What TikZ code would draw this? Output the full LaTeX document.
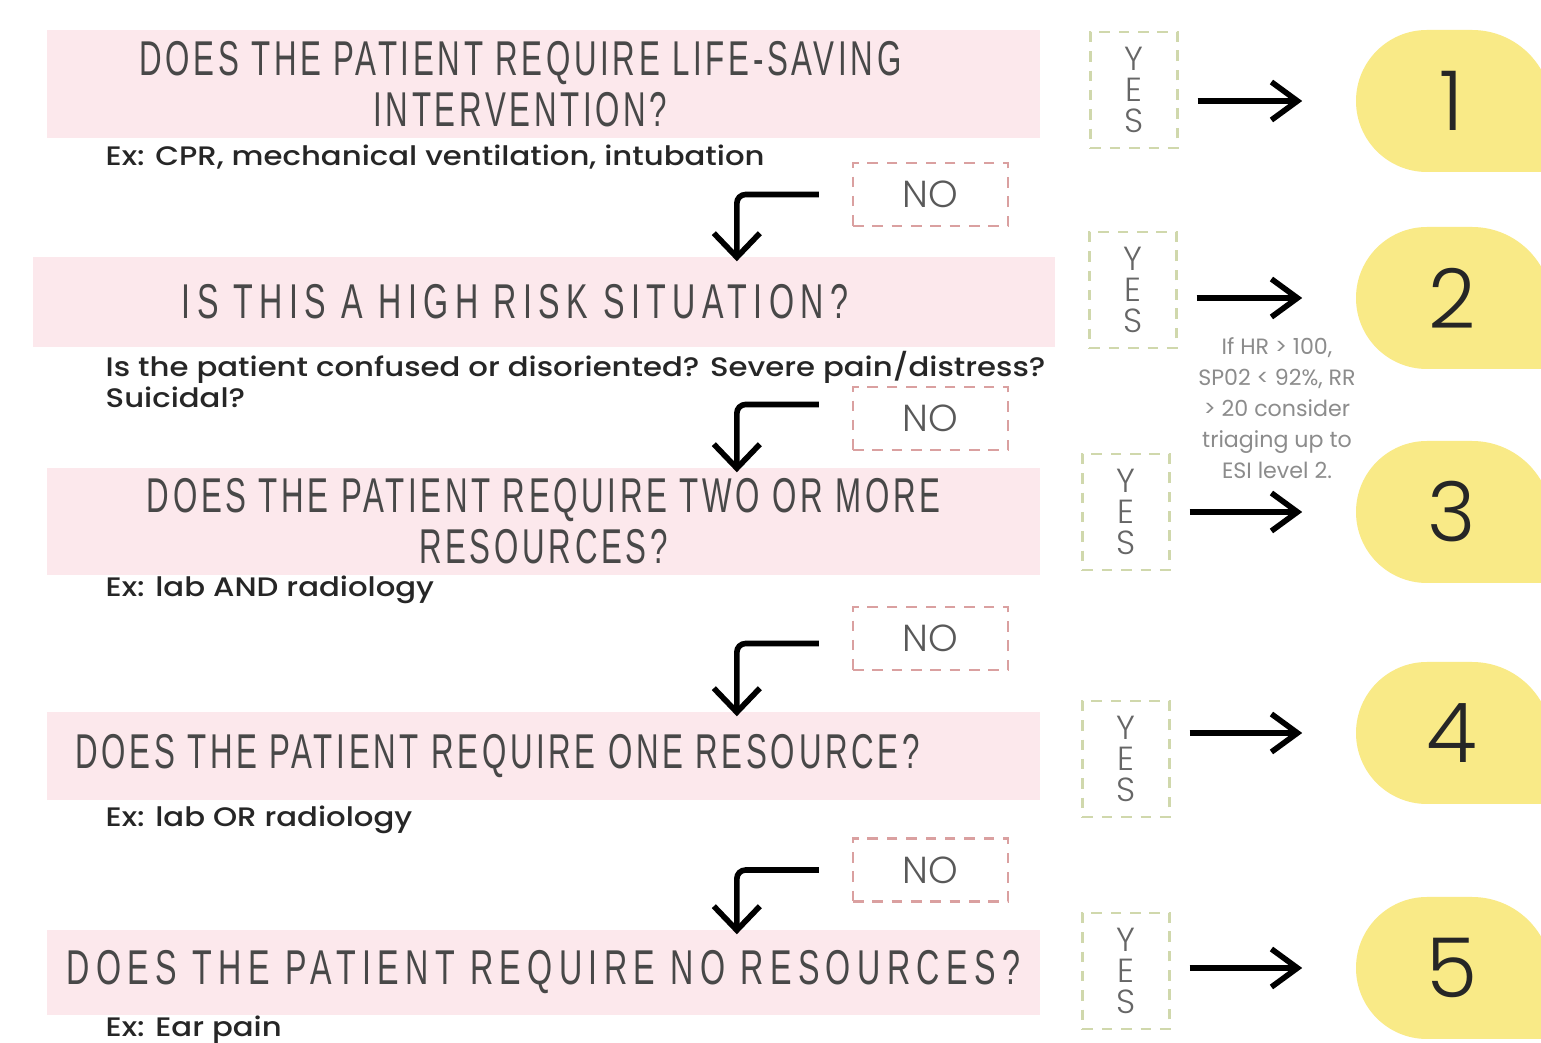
\documentclass[tikz,border=0pt]{standalone}
\usepackage{fontspec}
\setmainfont{Liberation Sans}
\newfontfamily\headfont[FakeStretch=0.64, LetterSpace=7.5]{Liberation Sans}
\newfontfamily\headfontwide[FakeStretch=0.66, LetterSpace=13]{Liberation Sans}
\newfontfamily\exfont[FakeStretch=1.15]{Poppins Medium}
\newfontfamily\notefont{Poppins}
\newfontfamily\thinfont{Poppins Light}
\usetikzlibrary{calc, positioning, shapes.misc, arrows.meta}
\definecolor{qpink}{RGB}{252,232,236}
\definecolor{lvlyellow}{RGB}{249,234,135}
\definecolor{yesgreen}{RGB}{208,216,172}
\definecolor{nored}{RGB}{218,160,160}
\definecolor{headgray}{RGB}{72,72,72}
\tikzstyle{question}=[fill=qpink, minimum width=9.93cm, inner sep=0pt, align=center, text=headgray, font=\headfont\fontsize{13.9}{14.6}\selectfont]
\tikzstyle{questionwide}=[question, font=\headfontwide\fontsize{13.9}{14.6}\selectfont]
\tikzstyle{extext}=[anchor=west, inner sep=0pt, align=left, text=black!85, font=\exfont\fontsize{7.6}{8.8}\selectfont]
\tikzstyle{yesbox}=[draw=yesgreen, line width=0.6pt, dash pattern=on 3pt off 2.5pt, minimum width=0.87cm, minimum height=1.16cm, inner sep=0pt, align=center, text=black!60, font=\thinfont\fontsize{9.5}{8.9}\selectfont]
\tikzstyle{nobox}=[draw=nored, line width=0.6pt, dash pattern=on 3pt off 2.5pt, minimum width=1.55cm, minimum height=0.63cm, inner sep=0pt, text=black!65, font=\thinfont\fontsize{10.7}{11}\selectfont]
\tikzstyle{level}=[minimum width=1.94cm, minimum height=1.42cm, inner sep=0pt, text=black!85, font=\thinfont\fontsize{23.5}{24}\selectfont]
\tikzstyle{note}=[align=center, inner sep=0pt, text=black!45, font=\notefont\fontsize{6.3}{8.8}\selectfont]
\tikzstyle{yesarrow}=[-{Straight Barb[length=2.6mm,width=3.8mm]}, line width=1.6pt, shorten <=0.19cm, shorten >=0.52cm]
\tikzstyle{noarrow}=[-{Straight Barb[length=2.4mm,width=4.6mm]}, line width=1.6pt, rounded corners=2.5pt]

\begin{document}
\begin{tikzpicture}[x=0.01cm, y=-0.01cm]
\useasboundingbox (0,0) rectangle (1541,1043);
\fill[white] (0,0) rectangle (1541,1043);
\clip (0,0) rectangle (1541,1043);
% yellow level blobs
\foreach \y in {101,298,512,733,968}
  \fill[lvlyellow] (1560,\y+71) -- (1427,\y+71) arc[start angle=90, end angle=270, radius=71] -- (1472,\y-71) arc[start angle=-90, end angle=0, radius=80] -- (1560,\y+9) -- cycle;
% questions
\node [question, minimum height=1.08cm](q1) at (543.5,84){\hspace*{-0.46cm}DOES THE PATIENT REQUIRE LIFE-SAVING\\\hspace*{-0.46cm}INTERVENTION?};
\node [questionwide, minimum width=10.22cm, minimum height=0.9cm](q2) at (544,302){\hspace*{-0.58cm}IS THIS A HIGH RISK SITUATION?};
\node [question, minimum height=1.07cm](q3) at (543.5,521.5){DOES THE PATIENT REQUIRE TWO OR MORE\\RESOURCES?};
\node [question, minimum height=0.88cm](q4) at (543.5,756){\hspace*{-0.92cm}DOES THE PATIENT REQUIRE ONE RESOURCE?};
\node [questionwide, minimum height=0.85cm](q5) at (543.5,972.5){DOES THE PATIENT REQUIRE NO RESOURCES?};
% examples
\node [extext](ex1) at (105,157){Ex: CPR, mechanical ventilation, intubation};
\node [extext, anchor=north west](ex2) at (105,351){Is the patient confused or disoriented? Severe pain/distress?\\Suicidal?};
\node [extext](ex3) at (105,590){Ex: lab AND radiology};
\node [extext](ex4) at (105,820){Ex: lab OR radiology};
\node [extext](ex5) at (105,1030){Ex: Ear pain};
% no boxes
\node [nobox](no1) at (930.5,194.5){NO};
\node [nobox](no2) at (930.5,418.5){NO};
\node [nobox](no3) at (930.5,638.5){NO};
\node [nobox](no4) at (930.5,870){NO};
\draw [noarrow] ([xshift=-0.33cm]no1.west) -| ([xshift=-1.15cm,yshift=-0.05cm]no1.west |- q2.north);
\draw [noarrow] ([xshift=-0.33cm,yshift=0.14cm]no2.west) -| ([xshift=-1.15cm,yshift=-0.05cm]no2.west |- q3.north);
\draw [noarrow] ([xshift=-0.33cm,yshift=-0.05cm]no3.west) -| ([xshift=-1.15cm,yshift=-0.05cm]no3.west |- q4.north);
\draw [noarrow] ([xshift=-0.33cm]no4.west) -| ([xshift=-1.15cm,yshift=-0.05cm]no4.west |- q5.north);
% yes boxes and levels
\node [yesbox](yes1) at (1134,90){Y\\E\\S};
\node [yesbox](yes2) at (1133,290){Y\\E\\S};
\node [yesbox](yes3) at (1126,512){Y\\E\\S};
\node [yesbox](yes4) at (1126,759){Y\\E\\S};
\node [yesbox](yes5) at (1126,971){Y\\E\\S};
\node [level](lvl1) at (1452,101){1};
\node [level](lvl2) at (1452,298){2};
\node [level](lvl3) at (1452,512){3};
\node [level](lvl4) at (1452,733){4};
\node [level](lvl5) at (1452,968){5};
\draw [yesarrow] (yes1.east |- lvl1) -- (lvl1.west);
\draw [yesarrow] (yes2.east |- lvl2) -- (lvl2.west);
\draw [yesarrow] (yes3.east |- lvl3) -- (lvl3.west);
\draw [yesarrow] (yes4.east |- lvl4) -- (lvl4.west);
\draw [yesarrow] (yes5.east |- lvl5) -- (lvl5.west);
\node [note](hr) at (1277,408){If HR > 100,\\SP02 < 92\%, RR\\> 20 consider\\triaging up to\\ESI level 2.};
\end{tikzpicture}
\end{document}
